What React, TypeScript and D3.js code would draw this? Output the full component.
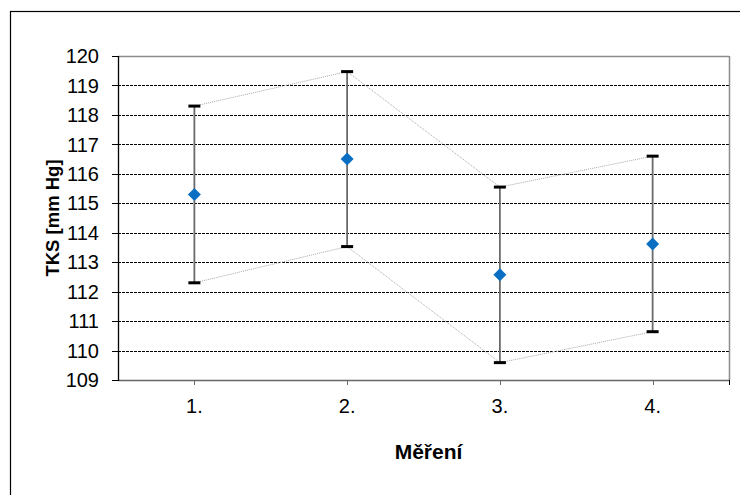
import React from "react";
import * as d3 from "d3";

const categories = ["1.", "2.", "3.", "4."];
const means = [115.3, 116.5, 112.57, 113.62];
const errors = [3, 2.97, 2.98, 2.98];
const yTicks = [109, 110, 111, 112, 113, 114, 115, 116, 117, 118, 119, 120];
const yTitle = "TKS [mm Hg]";
const xTitle = "Měření";

export default function App() {
  const W = 740, H = 495;
  const left = 118, right = 729, top = 56, bottom = 380;
  const x = d3.scaleBand<string>().domain(categories).range([left, right]);
  const y = d3.scaleLinear().domain([109, 120]).range([bottom, top]);
  const cx = (c: string) => (x(c) as number) + x.bandwidth() / 2;
  const upper = categories.map((c, i) => [cx(c), y(means[i] + errors[i])] as [number, number]);
  const lower = categories.map((c, i) => [cx(c), y(means[i] - errors[i])] as [number, number]);
  const line = d3.line();
  const font = "Arial, 'Liberation Sans', sans-serif";
  return (
    <svg width={W} height={H} style={{ position: "absolute", left: 0, top: 0, background: "#fff" }}>
      <rect x={0} y={0} width={W} height={H} fill="#fff" />
      <rect x={10.5} y={11.5} width={900} height={700} fill="none" stroke="#000" strokeWidth={1.2} />
      {/* grid */}
      {yTicks.filter((t) => t !== 109 && t !== 120).map((t) => (
        <line key={t} x1={left} x2={right} y1={Math.round(y(t)) + 0.5} y2={Math.round(y(t)) + 0.5}
          stroke="#000" strokeWidth={1} strokeDasharray="3,1" />
      ))}
      {/* plot border */}
      <line x1={left} x2={right} y1={top + 0.5} y2={top + 0.5} stroke="#8c8c8c" strokeWidth={1.5} />
      <line x1={right + 0.5} x2={right + 0.5} y1={top} y2={bottom} stroke="#8c8c8c" strokeWidth={1.5} />
      <line x1={left} x2={right + 1} y1={bottom + 0.5} y2={bottom + 0.5} stroke="#666" strokeWidth={1.5} />
      <line x1={left + 0.5} x2={left + 0.5} y1={top} y2={bottom + 1} stroke="#000" strokeWidth={1.3} />
      {/* y ticks and labels */}
      {yTicks.map((t) => (
        <g key={t}>
          <line x1={left - 6} x2={left} y1={Math.round(y(t)) + 0.5} y2={Math.round(y(t)) + 0.5} stroke="#000" strokeWidth={1} />
          <text x={99} y={y(t)} dy="0.36em" textAnchor="end" fontFamily={font} fontSize={20} fill="#000">{t}</text>
        </g>
      ))}
      {/* x ticks and labels */}
      {categories.map((c) => (
        <g key={c}>
          <line x1={Math.round(cx(c)) + 0.5} x2={Math.round(cx(c)) + 0.5} y1={bottom} y2={bottom + 5} stroke="#666" strokeWidth={1} />
          <text x={cx(c)} y={413} textAnchor="middle" fontFamily={font} fontSize={20} fill="#000">{c}</text>
        </g>
      ))}
      <line x1={right + 0.5} x2={right + 0.5} y1={bottom} y2={bottom + 5} stroke="#000" strokeWidth={1} />
      {/* connecting dotted lines */}
      <path d={line(upper) || ""} fill="none" stroke="#a8a8a8" strokeWidth={1} strokeDasharray="1,1" />
      <path d={line(lower) || ""} fill="none" stroke="#a8a8a8" strokeWidth={1} strokeDasharray="1,1" />
      {/* error bars */}
      {categories.map((c, i) => {
        const px = cx(c);
        const yu = y(means[i] + errors[i]);
        const yl = y(means[i] - errors[i]);
        return (
          <g key={c}>
            <line x1={px} x2={px} y1={yu} y2={yl} stroke="#6a6a6a" strokeWidth={1.8} />
            <line x1={px - 6} x2={px + 6} y1={yu} y2={yu} stroke="#000" strokeWidth={3} />
            <line x1={px - 6} x2={px + 6} y1={yl} y2={yl} stroke="#000" strokeWidth={3} />
          </g>
        );
      })}
      {/* markers */}
      {categories.map((c, i) => {
        const px = cx(c);
        const py = y(means[i]);
        const s = 6.5;
        return (
          <path key={c} d={`M${px},${py - s}L${px + s},${py}L${px},${py + s}L${px - s},${py}Z`} fill="#0a6fc2" />
        );
      })}
      {/* titles */}
      <text x={(left + right) / 2 + 5} y={459} textAnchor="middle" fontFamily={font} fontSize={21} fontWeight="bold" fill="#000">{xTitle}</text>
      <text transform={`translate(59,${(top + bottom) / 2}) rotate(-90)`} textAnchor="middle" fontFamily={font} fontSize={18.5} fontWeight="bold" fill="#000">{yTitle}</text>
    </svg>
  );
}
